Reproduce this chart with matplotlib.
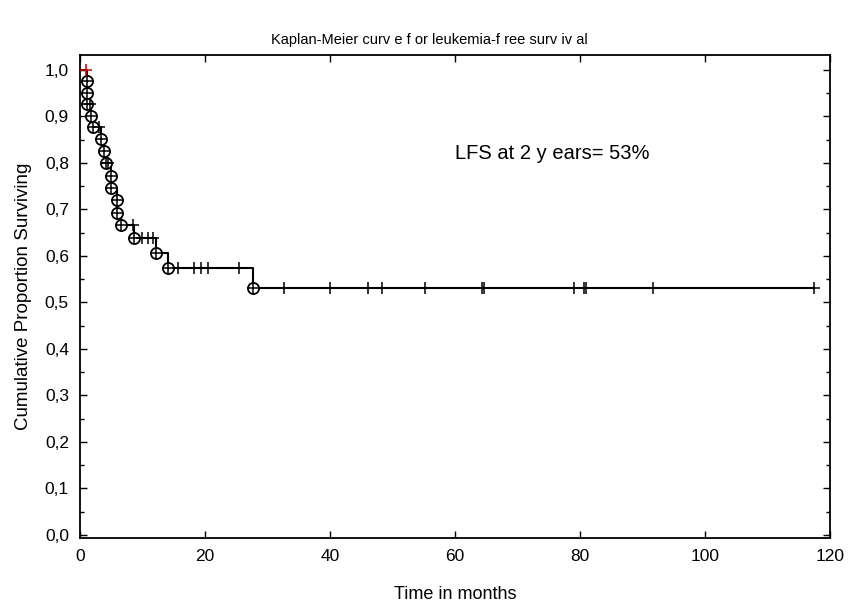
import numpy as np
import matplotlib
matplotlib.use("Agg")
import matplotlib.pyplot as plt
from matplotlib.ticker import MultipleLocator, FuncFormatter

# ---- data (months) ----
event_times = [1.1, 1.1, 1.1, 1.75, 2.0, 3.3, 3.85, 4.2, 4.9, 4.9,
               5.9, 5.9, 6.5, 8.7, 12.2, 14.0, 27.7]
censor_times = [1.0, 1.6, 3.1, 4.4, 8.5, 9.9, 10.9, 11.6, 15.7, 18.3,
                19.4, 20.4, 25.5, 32.7, 40.0, 46.0, 48.3, 55.2, 64.3,
                64.7, 79.0, 80.6, 80.9, 91.7, 117.4]
title = "Kaplan-Meier curv e f or leukemia-f ree surv iv al"
xlabel = "Time in months"
ylabel = "Cumulative Proportion Surviving"
note = "LFS at 2 y ears= 53%"
xticks = [0, 20, 40, 60, 80, 100, 120]
yticks = [0.0, 0.1, 0.2, 0.3, 0.4, 0.5, 0.6, 0.7, 0.8, 0.9, 1.0]

# ---- product-limit estimate, subject by subject ----
subjects = sorted([(t, 0) for t in event_times] + [(t, 1) for t in censor_times])
n = len(subjects)
S = 1.0
step_x, step_y = [0.0], [1.0]
ev_x, ev_y, cen_x, cen_y = [], [], [], []
for t, cens in subjects:
    if cens == 0:
        step_x.append(t); step_y.append(S)
        S *= (n - 1) / n
        step_x.append(t); step_y.append(S)
        ev_x.append(t); ev_y.append(S)
    else:
        cen_x.append(t); cen_y.append(S)
    n -= 1
step_x.append(max(censor_times)); step_y.append(S)

plt.rcParams['font.family'] = ['Liberation Sans', 'DejaVu Sans']
fig = plt.figure(figsize=(8.58, 6.04), dpi=100)
ax = fig.add_axes([80/858, 1-538/604, 750/858, (538-55)/604])

ax.plot(step_x, step_y, color='black', lw=1.5, zorder=2)
ax.plot(ev_x, ev_y, ls='none', marker='o', ms=8, mfc='white', mec='black', mew=1.3, zorder=3)
ax.plot(ev_x, ev_y, ls='none', marker='+', ms=8, color='black', mew=1.1, zorder=4)
ax.plot(cen_x[1:], cen_y[1:], ls='none', marker='+', ms=8.5, color='black', mew=1.1, zorder=4)
ax.plot(cen_x[:1], cen_y[:1], ls='none', marker='+', ms=8.5, color='#cc0000', mew=1.1, zorder=4)

ax.set_xlim(0, 120)
ax.set_ylim(-0.0065, 1.032)
ax.set_xticks(xticks)
ax.set_yticks(yticks)
ax.yaxis.set_minor_locator(MultipleLocator(0.05))
ax.yaxis.set_major_formatter(FuncFormatter(lambda v, p: f"{v:.1f}".replace('.', ',')))
ax.tick_params(which='both', direction='in', top=True, right=True, labelsize=12.5, width=1)
ax.tick_params(which='major', length=5, pad=8)
ax.tick_params(which='minor', length=3)
for sp in ax.spines.values():
    sp.set_linewidth(1.3)

ax.set_xlabel(xlabel, fontsize=13, labelpad=16)
ax.set_ylabel(ylabel, fontsize=13.5, labelpad=9)
fig.text(0.5, 1-40/604, title, ha='center', va='center', fontsize=10.5)
ax.text(60, 0.82, note, fontsize=14.5, ha='left', va='center')

fig.savefig("out.png", dpi=100)
